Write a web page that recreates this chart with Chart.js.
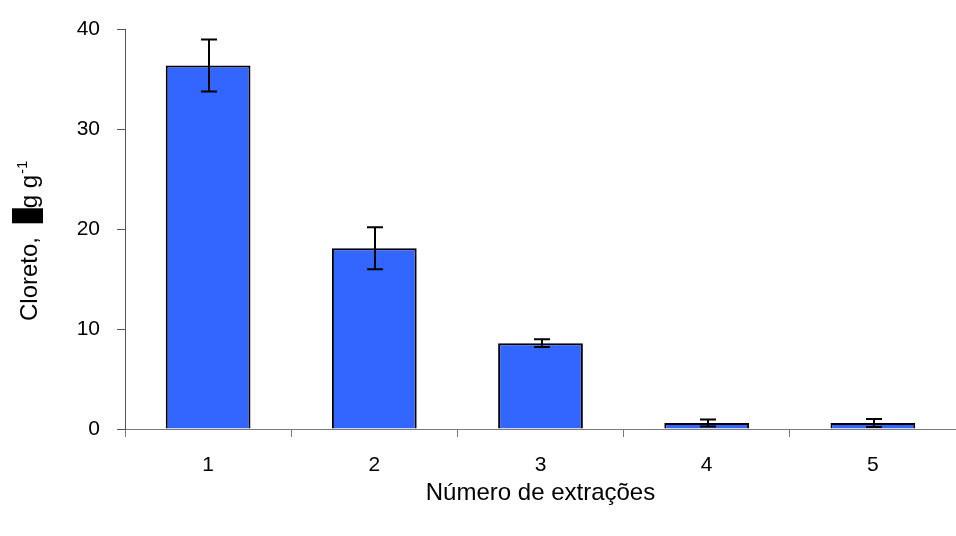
<!DOCTYPE html>
<html>
<head>
<meta charset="utf-8">
<title>Cloreto por extração</title>
<script src="https://cdn.jsdelivr.net/npm/chart.js@4.4.1/dist/chart.umd.min.js"></script>
<style>
  html, body { margin: 0; padding: 0; background: #fff; }
  #chart { display: block; }
</style>
</head>
<body>
<canvas id="chart" width="956" height="536"></canvas>
<script>
const extractions = ['1', '2', '3', '4', '5'];
const chloride = [36.4, 18.1, 8.6, 0.6, 0.6];
const chlorideErr = [2.6, 2.1, 0.4, 0.35, 0.4];
const yTicks = [0, 10, 20, 30, 40];

const FONT = '"Liberation Sans", Arial, sans-serif';

// vertical error bars with caps, centred on each bar
const errorBars = {
  id: 'errorBars',
  afterDatasetsDraw(chart) {
    const ctx = chart.ctx;
    const y = chart.scales.y;
    const meta = chart.getDatasetMeta(0);
    ctx.save();
    ctx.strokeStyle = '#000';
    ctx.lineWidth = 2;
    meta.data.forEach((bar, i) => {
      const top = y.getPixelForValue(chloride[i] + chlorideErr[i]);
      const bot = y.getPixelForValue(Math.max(0, chloride[i] - chlorideErr[i]));
      const x = Math.round(bar.x) + 1;
      ctx.beginPath();
      ctx.moveTo(x, top);
      ctx.lineTo(x, bot);
      ctx.moveTo(x - 8, top);
      ctx.lineTo(x + 8, top);
      ctx.moveTo(x - 8, bot);
      ctx.lineTo(x + 8, bot);
      ctx.stroke();
    });
    ctx.restore();
  }
};

// rotated y title; the micro sign sits on a solid block
const yTitle = {
  id: 'yTitle',
  afterDraw(chart) {
    const ctx = chart.ctx;
    ctx.save();
    ctx.translate(37, 321);
    ctx.rotate(-Math.PI / 2);
    ctx.fillStyle = '#000';
    ctx.textBaseline = 'alphabetic';
    ctx.textAlign = 'left';
    ctx.font = '24px ' + FONT;
    let x = 0;
    const lead = 'Cloreto, ';
    ctx.fillText(lead, x, 0);
    x += ctx.measureText(lead).width + 7;
    const boxW = 15;
    ctx.fillRect(x, -25, boxW, 31);
    ctx.fillText('\u00b5', x + 1, 0);
    x += boxW;
    const unit = 'g g';
    ctx.fillText(unit, x, 0);
    x += ctx.measureText(unit).width;
    ctx.font = '15px ' + FONT;
    ctx.fillText('-1', x + 1, -10);
    ctx.restore();
  }
};

new Chart(document.getElementById('chart'), {
  type: 'bar',
  data: {
    labels: extractions,
    datasets: [{
      data: chloride,
      backgroundColor: '#3366ff',
      borderColor: '#000',
      borderWidth: 2,
      barPercentage: 0.51,
      categoryPercentage: 1
    }]
  },
  options: {
    responsive: false,
    animation: false,
    devicePixelRatio: 1,
    layout: { padding: { top: 27, right: 0, left: 0, bottom: 0 } },
    plugins: {
      legend: { display: false },
      tooltip: { enabled: false }
    },
    scales: {
      x: {
        afterFit(scale) { scale.height = 107; },
        grid: {
          offset: true,
          drawOnChartArea: false,
          drawTicks: true,
          tickLength: 8,
          color: '#7a7a7a'
        },
        border: { color: '#7a7a7a', width: 1 },
        ticks: {
          color: '#000',
          padding: 16,
          font: { family: FONT, size: 21 }
        },
        title: {
          display: true,
          text: 'Número de extrações',
          color: '#000',
          padding: { top: 0, bottom: 28 },
          font: { family: FONT, size: 24 }
        }
      },
      y: {
        min: 0,
        max: 40,
        afterFit(scale) { scale.width = 125; },
        afterBuildTicks(scale) { scale.ticks = yTicks.map(v => ({ value: v })); },
        grid: {
          drawOnChartArea: false,
          drawTicks: true,
          tickLength: 8,
          color: '#555'
        },
        border: { color: '#555', width: 1 },
        ticks: {
          color: '#000',
          padding: 17,
          font: { family: FONT, size: 21 }
        }
      }
    }
  },
  plugins: [errorBars, yTitle]
});
</script>
</body>
</html>
